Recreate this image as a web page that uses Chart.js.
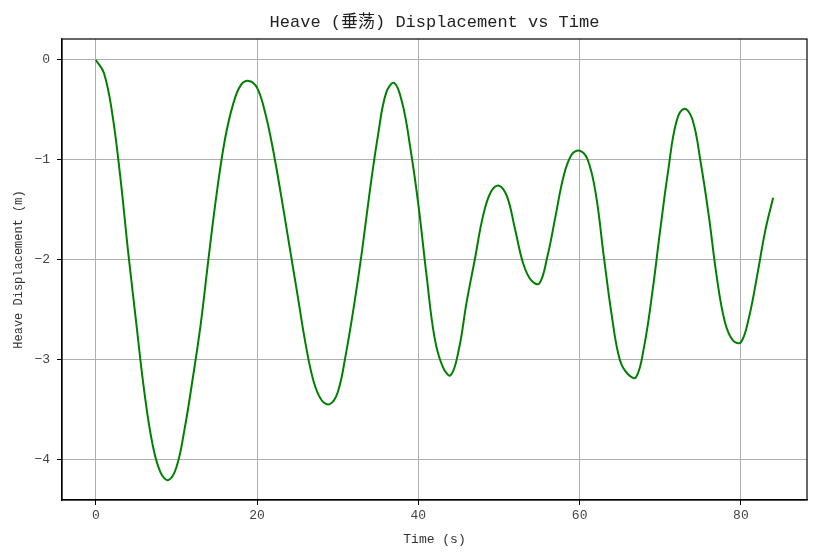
<!DOCTYPE html>
<html>
<head>
<meta charset="utf-8">
<script src="https://cdn.jsdelivr.net/npm/chart.js@4/dist/chart.umd.min.js"></script>
<style>
  html, body { margin: 0; padding: 0; background: #fff; }
  canvas { display: block; }
</style>
</head>
<body>
<canvas id="heave__chart" width="817" height="558"></canvas>
<script>
// time samples (s)
const timeSec = [
  0, 1, 2, 3, 4, 5, 6, 7, 8, 9, 10, 11, 12, 13, 14, 15, 16, 17, 18, 19, 20,
  21, 22, 23, 24, 25, 26, 27, 28, 29, 30, 31, 32, 33, 34, 35, 36, 37, 38, 39, 40,
  41, 42, 43, 44, 45, 46, 47, 48, 49, 50, 51, 52, 53, 54, 55, 56, 57, 58, 59, 60,
  61, 62, 63, 64, 65, 66, 67, 68, 69, 70, 71, 72, 73, 74, 75, 76, 77, 78, 79, 80,
  81, 82, 83, 84
];

// heave displacement (m)
const heaveM = [
  0, -0.13, -0.52, -1.15, -1.92, -2.63, -3.32, -3.84, -4.13, -4.21, -4.08,
  -3.70, -3.20, -2.65, -1.97, -1.33, -0.80, -0.45, -0.25, -0.21, -0.28,
  -0.53, -0.91, -1.37, -1.86, -2.35, -2.84, -3.22, -3.41, -3.45, -3.33,
  -2.95, -2.47, -1.92, -1.30, -0.75, -0.33, -0.23, -0.43, -0.88, -1.45,
  -2.15, -2.78, -3.07, -3.16, -2.91, -2.42, -2.00, -1.57, -1.32, -1.26,
  -1.37, -1.70, -2.04, -2.21, -2.24, -1.97, -1.57, -1.17, -0.95, -0.91,
  -1.00, -1.34, -1.97, -2.57, -3.01, -3.15, -3.18, -2.87, -2.34, -1.70,
  -1.10, -0.62, -0.49, -0.60, -1.02, -1.55, -2.17, -2.62, -2.81, -2.83,
  -2.58, -2.17, -1.72, -1.38
];

const xTicks = [0, 20, 40, 60, 80];
const yTicks = [0, -1, -2, -3, -4];

const TITLE = 'Heave (垂荡) Displacement vs Time';
const FONT = '"Liberation Mono", "Noto Sans CJK SC", monospace';

// title centred over the plot area, like matplotlib does
const plotTitle = {
  id: 'plotTitle',
  afterDraw(chart) {
    const { ctx, chartArea: a } = chart;
    ctx.save();
    ctx.fillStyle = '#222';
    ctx.font = '17px ' + FONT;
    ctx.textAlign = 'center';
    ctx.textBaseline = 'middle';
    ctx.fillText(TITLE, (a.left + a.right) / 2, 22);
    ctx.restore();
  }
};

// closed frame round the plot area
const frameBox = {
  id: 'frameBox',
  afterDatasetsDraw(chart) {
    const { ctx, chartArea: a } = chart;
    ctx.save();
    ctx.strokeStyle = '#000';
    ctx.lineWidth = 1.2;
    ctx.strokeRect(a.left, a.top, a.right - a.left, a.bottom - a.top);
    ctx.restore();
  }
};

const whiteBg = {
  id: 'whiteBg',
  beforeDraw(chart) {
    const ctx = chart.ctx;
    ctx.save();
    ctx.fillStyle = '#fff';
    ctx.fillRect(0, 0, chart.width, chart.height);
    ctx.restore();
  }
};

const chartData = {
  datasets: [
    {
      label: 'Heave',
      data: timeSec.map((t, i) => ({ x: t, y: heaveM[i] })),
      borderColor: '#008000',
      backgroundColor: '#008000',
      borderWidth: 2,
      pointRadius: 0,
      tension: 0.4,
    },
  ],
};

const chartOptions = {
  responsive: false,
  animation: false,
  devicePixelRatio: 1,
  layout: {
    padding: { left: 0, right: 10, top: 39, bottom: 0 }
  },
  plugins: {
    legend: { display: false },
    tooltip: { enabled: false },
    title: { display: false },
  },
  scales: {
    x: {
      type: 'linear',
      min: -4.2,
      max: 88.2,
      afterBuildTicks: (scale) => { scale.ticks = xTicks.map(v => ({ value: v })); },
      afterFit: (scale) => { scale.height = 58; },
      ticks: {
        color: '#444',
        padding: 3,
        maxRotation: 0,
        font: { family: FONT, size: 13 },
      },
      grid: {
        color: '#b0b0b0',
        lineWidth: 1,
        tickColor: '#000',
        tickLength: 5,
      },
      border: { display: true, color: '#000', width: 1.2 },
      title: {
        display: true,
        text: 'Time (s)',
        color: '#333',
        font: { family: FONT, size: 13 },
        padding: { top: 0, bottom: 11 },
      },
    },
    y: {
      type: 'linear',
      min: -4.41,
      max: 0.21,
      afterBuildTicks: (scale) => { scale.ticks = yTicks.map(v => ({ value: v })); },
      afterFit: (scale) => { scale.width = 62; },
      ticks: {
        color: '#444',
        padding: 7,
        font: { family: FONT, size: 13 },
        callback: (value) => String(value).replace('-', '\u2212'),
      },
      grid: {
        color: '#b0b0b0',
        lineWidth: 1,
        tickColor: '#000',
        tickLength: 5,
      },
      border: { display: true, color: '#000', width: 1.2 },
      title: {
        display: true,
        text: 'Heave Displacement (m)',
        color: '#333',
        font: { family: FONT, size: 12 },
        padding: { top: 12, bottom: 0 },
      },
    },
  },
};

new Chart(document.getElementById('heave__chart').getContext('2d'), {
  type: 'line',
  data: chartData,
  options: chartOptions,
  plugins: [whiteBg, frameBox, plotTitle],
});
</script>
</body>
</html>
